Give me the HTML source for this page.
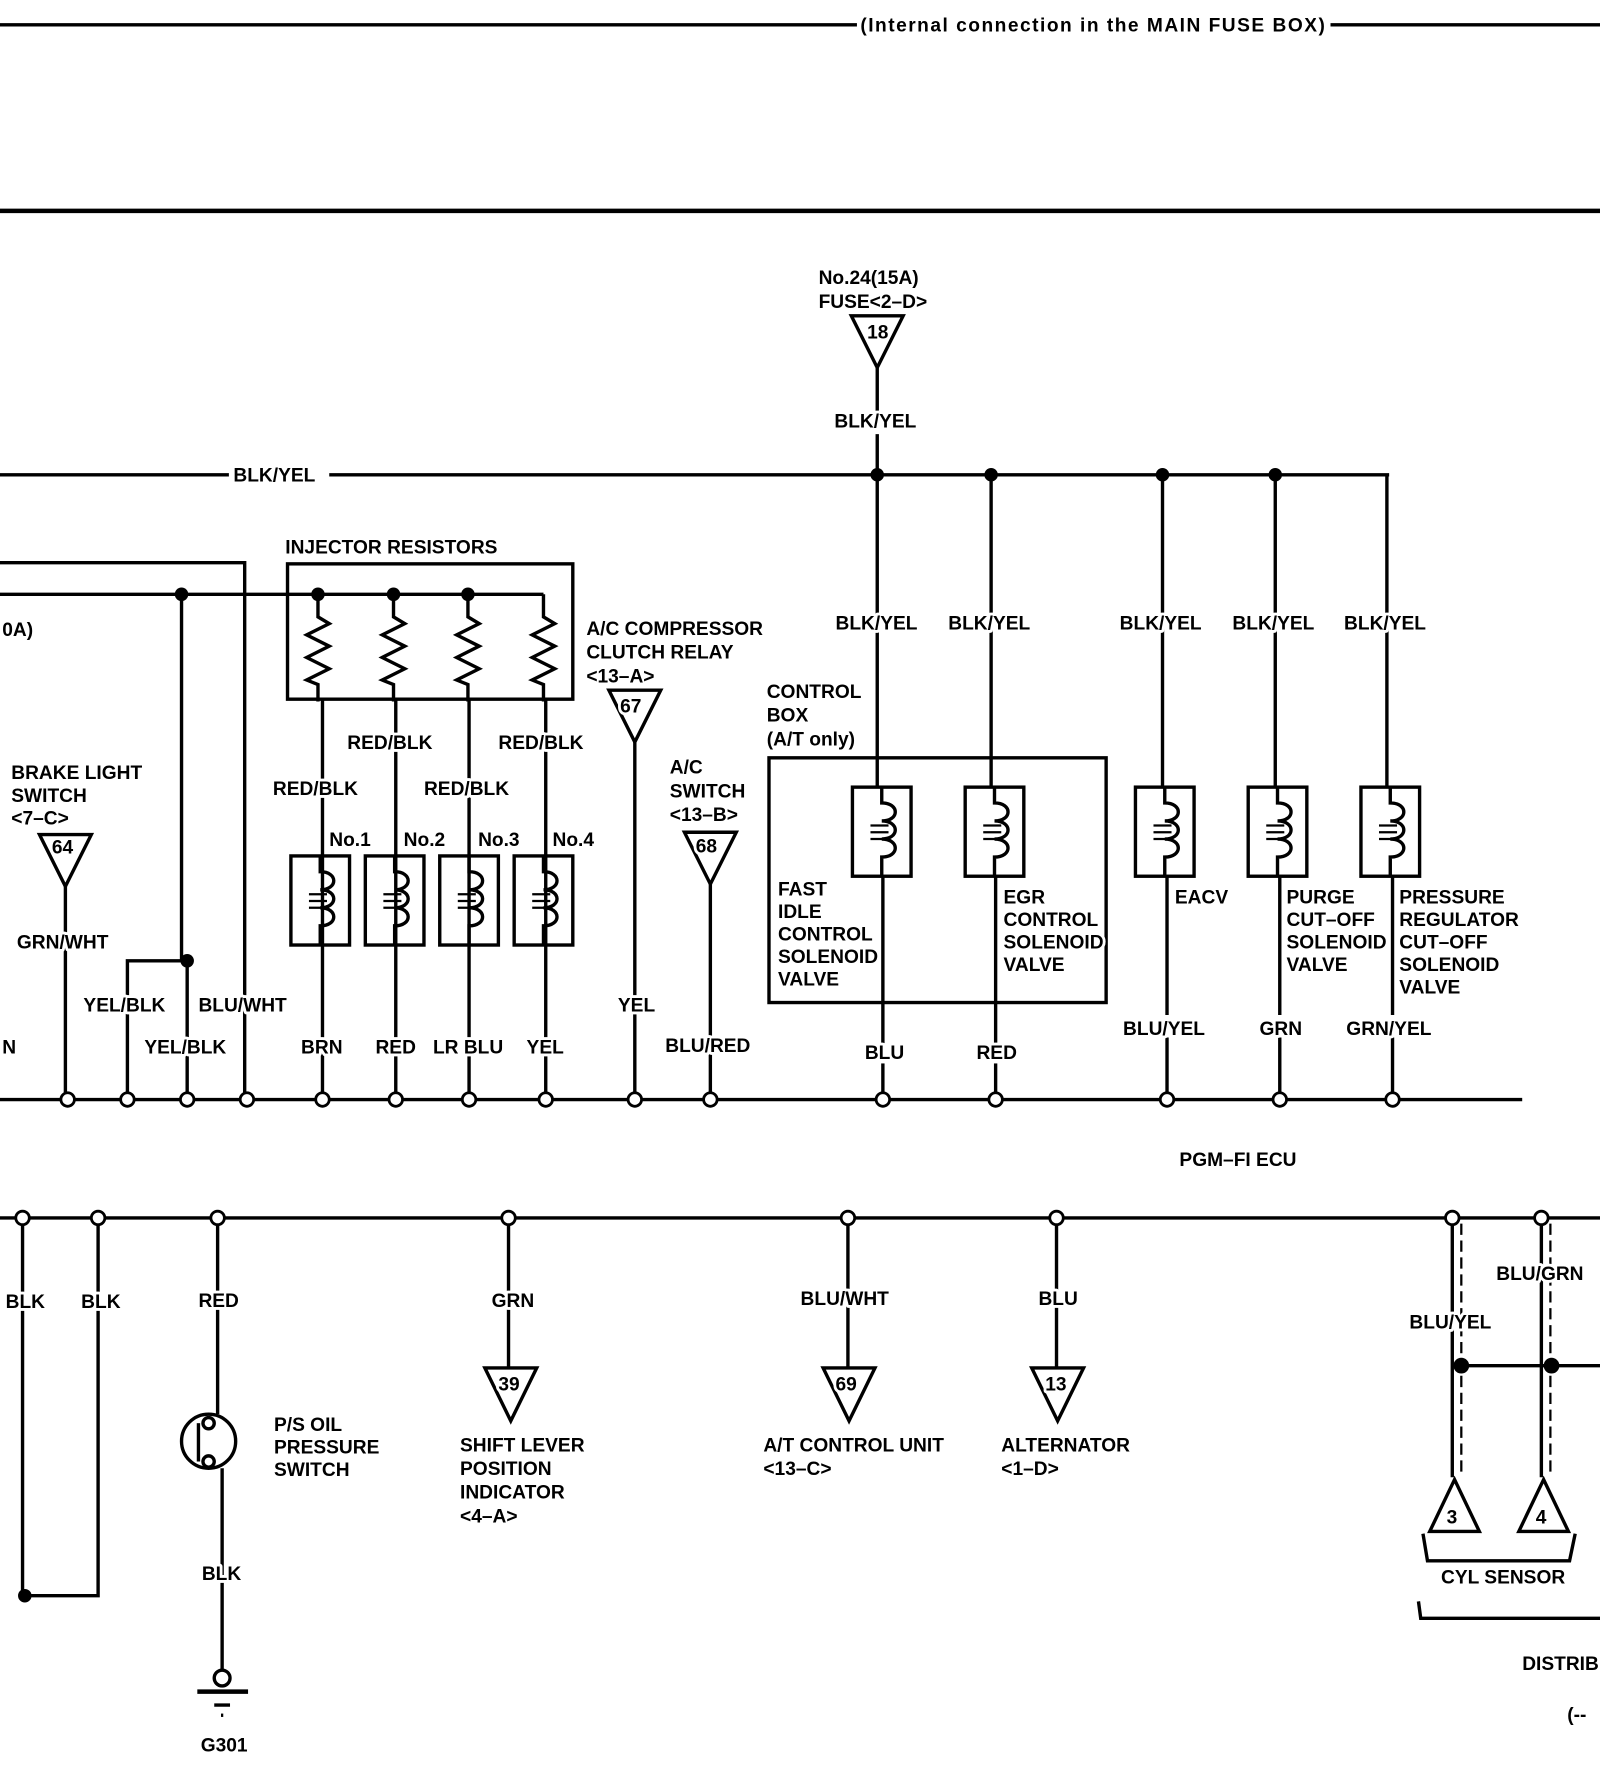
<!DOCTYPE html>
<html><head><meta charset="utf-8">
<style>
html,body{margin:0;padding:0;background:#fff;}
svg{display:block;}
text{font-family:"Liberation Sans",Arial,sans-serif;font-weight:bold;font-size:17px;fill:#000;stroke:#fff;stroke-width:5px;paint-order:stroke;stroke-linejoin:round;}
</style></head>
<body>
<svg width="1600" height="1766" viewBox="0 0 1419 1566" preserveAspectRatio="none" xmlns="http://www.w3.org/2000/svg">
<defs>
<g id="coil">
<rect x="-26" y="0" width="52" height="79" fill="none" stroke="#000" stroke-width="3"/>
<path d="M0,0 V14 C16,14 16,30 0,30 C16,30 16,46 0,46 C16,46 16,62 0,62 V79" fill="none" stroke="#000" stroke-width="3"/>
<path d="M-10,34 H6 M-10,46 H6 M-10,40 H6" stroke="#000" stroke-width="2"/>
</g>
<g id="res">
<path d="M0,0 V20 L10,26 L-10,36 L10,46 L-10,56 L10,66 L-10,76 L0,80 V95" fill="none" stroke="#000" stroke-width="3"/>
</g>
</defs>
<g stroke="#000" stroke-width="3" fill="none">
<line x1="0" y1="22" x2="760" y2="22"/>
<line x1="1180" y1="22" x2="1419" y2="22"/>
<line x1="0" y1="187" x2="1419" y2="187" stroke-width="4"/>
<polygon points="755,280 801,280 778,326"/>
<line x1="778" y1="326" x2="778" y2="365"/>
<line x1="778" y1="385" x2="778" y2="698"/>
<line x1="783" y1="777" x2="783" y2="925"/>
<line x1="783" y1="943" x2="783" y2="970"/>
<line x1="0" y1="421" x2="203" y2="421"/>
<line x1="292" y1="421" x2="1232" y2="421"/>
<line x1="879" y1="421" x2="879" y2="698"/>
<line x1="883" y1="777" x2="883" y2="925"/>
<line x1="883" y1="943" x2="883" y2="970"/>
<line x1="1031" y1="421" x2="1031" y2="698"/>
<line x1="1035" y1="777" x2="1035" y2="900"/>
<line x1="1035" y1="920" x2="1035" y2="970"/>
<line x1="1131" y1="421" x2="1131" y2="698"/>
<line x1="1135" y1="777" x2="1135" y2="900"/>
<line x1="1135" y1="920" x2="1135" y2="970"/>
<line x1="1230" y1="421" x2="1230" y2="698"/>
<line x1="1235" y1="777" x2="1235" y2="900"/>
<line x1="1235" y1="920" x2="1235" y2="970"/>
<rect x="682" y="672" width="299" height="217"/>
<line x1="0" y1="975" x2="1350" y2="975"/>
<line x1="0" y1="1080" x2="1419" y2="1080"/>
<polyline points="0,499 217,499 217,970"/>
<line x1="0" y1="527" x2="482" y2="527"/>
<polyline points="161,527 161,852 166,852 166,970"/>
<polyline points="166,852 113,852 113,970"/>
<polygon points="35,740 81,740 58,786"/>
<line x1="58" y1="786" x2="58" y2="970"/>
<rect x="255" y="500" width="253" height="120"/>
<line x1="286" y1="620" x2="286" y2="970"/>
<line x1="351" y1="620" x2="351" y2="970"/>
<line x1="416" y1="620" x2="416" y2="970"/>
<line x1="484" y1="620" x2="484" y2="970"/>
<polygon points="540,612 586,612 563,658"/>
<line x1="563" y1="658" x2="563" y2="970"/>
<polygon points="607,738 653,738 630,784"/>
<line x1="630" y1="784" x2="630" y2="970"/>
<polyline points="20,1085 20,1415 87,1415 87,1085"/>
<line x1="193" y1="1085" x2="193" y2="1254"/>
<line x1="197" y1="1302" x2="197" y2="1482"/>
<circle cx="185" cy="1278" r="24"/>
<line x1="176" y1="1262" x2="176" y2="1296"/>
<line x1="451" y1="1085" x2="451" y2="1213"/>
<polygon points="430,1213 476,1213 453,1260"/>
<line x1="752" y1="1085" x2="752" y2="1213"/>
<polygon points="730,1213 776,1213 753,1260"/>
<line x1="937" y1="1085" x2="937" y2="1213"/>
<polygon points="915,1213 961,1213 938,1260"/>
<line x1="1288" y1="1085" x2="1288" y2="1310"/>
<line x1="1367" y1="1085" x2="1367" y2="1310"/>
<line x1="1296" y1="1085" x2="1296" y2="1310" stroke-dasharray="10,5" stroke-width="2"/>
<line x1="1375" y1="1085" x2="1375" y2="1310" stroke-dasharray="10,5" stroke-width="2"/>
<line x1="1296" y1="1211" x2="1419" y2="1211"/>
<polygon points="1290,1312 1268,1358 1312,1358"/>
<polygon points="1369,1312 1347,1358 1391,1358"/>
<polyline points="1262,1360 1266,1384 1392,1384 1397,1360"/>
<polyline points="1258,1420 1260,1435 1419,1435"/>
<line x1="175" y1="1500" x2="220" y2="1500" stroke-width="4"/>
<line x1="190" y1="1512" x2="204" y2="1512"/>
<line x1="196" y1="1521" x2="198" y2="1521"/>
</g>
<g stroke="#000" stroke-width="3" fill="#fff">
<circle cx="197" cy="1488" r="7"/>
<circle cx="185" cy="1262" r="5" fill="none"/>
<circle cx="185" cy="1296" r="5" fill="none"/>
</g>
<use href="#coil" x="782" y="698"/>
<use href="#coil" x="882" y="698"/>
<use href="#coil" x="1033" y="698"/>
<use href="#coil" x="1133" y="698"/>
<use href="#coil" x="1233" y="698"/>
<use href="#coil" x="284" y="759"/>
<use href="#coil" x="350" y="759"/>
<use href="#coil" x="416" y="759"/>
<use href="#coil" x="482" y="759"/>
<use href="#res" x="282" y="527"/>
<use href="#res" x="349" y="527"/>
<use href="#res" x="415" y="527"/>
<use href="#res" x="482" y="527"/>
<g fill="#000">
<circle cx="778" cy="421" r="6"/><circle cx="879" cy="421" r="6"/><circle cx="1031" cy="421" r="6"/><circle cx="1131" cy="421" r="6"/>
<circle cx="161" cy="527" r="6"/><circle cx="282" cy="527" r="6"/><circle cx="349" cy="527" r="6"/><circle cx="415" cy="527" r="6"/>
<circle cx="166" cy="852" r="6"/><circle cx="22" cy="1415" r="6"/>
<circle cx="1296" cy="1211" r="7"/><circle cx="1376" cy="1211" r="7"/>
</g>
<g fill="#fff" stroke="#000" stroke-width="2.5">
<circle cx="60" cy="975" r="6"/><circle cx="113" cy="975" r="6"/><circle cx="166" cy="975" r="6"/><circle cx="219" cy="975" r="6"/>
<circle cx="286" cy="975" r="6"/><circle cx="351" cy="975" r="6"/><circle cx="416" cy="975" r="6"/><circle cx="484" cy="975" r="6"/>
<circle cx="563" cy="975" r="6"/><circle cx="630" cy="975" r="6"/><circle cx="783" cy="975" r="6"/><circle cx="883" cy="975" r="6"/>
<circle cx="1035" cy="975" r="6"/><circle cx="1135" cy="975" r="6"/><circle cx="1235" cy="975" r="6"/>
<circle cx="20" cy="1080" r="6"/><circle cx="87" cy="1080" r="6"/><circle cx="193" cy="1080" r="6"/><circle cx="451" cy="1080" r="6"/>
<circle cx="752" cy="1080" r="6"/><circle cx="937" cy="1080" r="6"/><circle cx="1288" cy="1080" r="6"/><circle cx="1367" cy="1080" r="6"/>
</g>
<text x="763" y="28" font-size="16" textLength="412" lengthAdjust="spacing">(Internal connection in the MAIN FUSE BOX)</text>
<text x="726" y="252">No.24(15A)</text>
<text x="726" y="273">FUSE&lt;2–D&gt;</text>
<text x="769" y="300" font-size="15">18</text>
<text x="740" y="379">BLK/YEL</text>
<text x="207" y="427">BLK/YEL</text>
<text x="741" y="558">BLK/YEL</text>
<text x="841" y="558">BLK/YEL</text>
<text x="993" y="558">BLK/YEL</text>
<text x="1093" y="558">BLK/YEL</text>
<text x="1192" y="558">BLK/YEL</text>
<text x="253" y="491">INJECTOR RESISTORS</text>
<text x="2" y="564">0A)</text>
<text x="520" y="563">A/C COMPRESSOR</text>
<text x="520" y="584">CLUTCH RELAY</text>
<text x="520" y="605">&lt;13–A&gt;</text>
<text x="550" y="632" font-size="15">67</text>
<text x="680" y="619">CONTROL</text>
<text x="680" y="640">BOX</text>
<text x="680" y="661">(A/T only)</text>
<text x="594" y="686">A/C</text>
<text x="594" y="707">SWITCH</text>
<text x="594" y="728">&lt;13–B&gt;</text>
<text x="617" y="756" font-size="15">68</text>
<text x="308" y="664">RED/BLK</text>
<text x="442" y="664">RED/BLK</text>
<text x="242" y="705">RED/BLK</text>
<text x="376" y="705">RED/BLK</text>
<text x="292" y="750">No.1</text>
<text x="358" y="750">No.2</text>
<text x="424" y="750">No.3</text>
<text x="490" y="750">No.4</text>
<text x="10" y="691">BRAKE LIGHT</text>
<text x="10" y="711">SWITCH</text>
<text x="10" y="731">&lt;7–C&gt;</text>
<text x="46" y="757" font-size="15">64</text>
<text x="15" y="841">GRN/WHT</text>
<text x="74" y="897">YEL/BLK</text>
<text x="176" y="897">BLU/WHT</text>
<text x="128" y="934">YEL/BLK</text>
<text x="2" y="934">N</text>
<text x="267" y="934">BRN</text>
<text x="333" y="934">RED</text>
<text x="384" y="934">LR BLU</text>
<text x="467" y="934">YEL</text>
<text x="548" y="897">YEL</text>
<text x="590" y="933">BLU/RED</text>
<text x="690" y="794">FAST</text>
<text x="690" y="814">IDLE</text>
<text x="690" y="834">CONTROL</text>
<text x="690" y="854">SOLENOID</text>
<text x="690" y="874">VALVE</text>
<text x="890" y="801">EGR</text>
<text x="890" y="821">CONTROL</text>
<text x="890" y="841">SOLENOID</text>
<text x="890" y="861">VALVE</text>
<text x="1042" y="801">EACV</text>
<text x="1141" y="801">PURGE</text>
<text x="1141" y="821">CUT–OFF</text>
<text x="1141" y="841">SOLENOID</text>
<text x="1141" y="861">VALVE</text>
<text x="1241" y="801">PRESSURE</text>
<text x="1241" y="821">REGULATOR</text>
<text x="1241" y="841">CUT–OFF</text>
<text x="1241" y="861">SOLENOID</text>
<text x="1241" y="881">VALVE</text>
<text x="767" y="939">BLU</text>
<text x="866" y="939">RED</text>
<text x="996" y="918">BLU/YEL</text>
<text x="1117" y="918">GRN</text>
<text x="1194" y="918">GRN/YEL</text>
<text x="1046" y="1034">PGM–FI ECU</text>
<text x="5" y="1160">BLK</text>
<text x="72" y="1160">BLK</text>
<text x="176" y="1159">RED</text>
<text x="436" y="1159">GRN</text>
<text x="710" y="1157">BLU/WHT</text>
<text x="921" y="1157">BLU</text>
<text x="243" y="1269">P/S OIL</text>
<text x="243" y="1289">PRESSURE</text>
<text x="243" y="1309">SWITCH</text>
<text x="179" y="1401">BLK</text>
<text x="178" y="1553">G301</text>
<text x="442" y="1233" font-size="15">39</text>
<text x="741" y="1233" font-size="15">69</text>
<text x="927" y="1233" font-size="15">13</text>
<text x="408" y="1287">SHIFT LEVER</text>
<text x="408" y="1308">POSITION</text>
<text x="408" y="1329">INDICATOR</text>
<text x="408" y="1350">&lt;4–A&gt;</text>
<text x="677" y="1287">A/T CONTROL UNIT</text>
<text x="677" y="1308">&lt;13–C&gt;</text>
<text x="888" y="1287">ALTERNATOR</text>
<text x="888" y="1308">&lt;1–D&gt;</text>
<text x="1327" y="1135">BLU/GRN</text>
<text x="1250" y="1178">BLU/YEL</text>
<text x="1283" y="1351">3</text>
<text x="1362" y="1351">4</text>
<text x="1278" y="1404">CYL SENSOR</text>
<text x="1350" y="1481">DISTRIB</text>
<text x="1390" y="1526">(--</text>
</svg>
</body></html>
